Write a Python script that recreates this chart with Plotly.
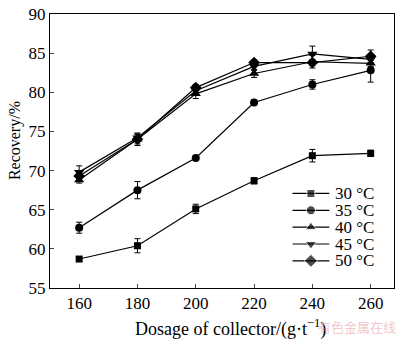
import plotly.graph_objects as go

dosage = [160, 180, 200, 220, 240, 260]
series_names = ["30 °C", "35 °C", "40 °C", "45 °C", "50 °C"]
r30 = [58.7, 60.4, 65.1, 68.7, 71.9, 72.2]
r35 = [62.7, 67.5, 71.6, 78.7, 81.0, 82.8]
r40 = [68.8, 74.0, 79.8, 82.4, 83.9, 83.7]
r45 = [69.8, 74.2, 80.2, 83.3, 84.9, 84.2]
r50 = [69.3, 74.0, 80.6, 83.8, 83.8, 84.6]
e30 = [0.2, 0.9, 0.6, 0.4, 0.8, 0.4]
e35 = [0.7, 1.1, 0.2, 0.3, 0.6, 1.5]
e40 = [0.4, 0.8, 0.6, 0.5, 0.8, 0.4]
e45 = [0.8, 0.5, 0.5, 0.5, 1.0, 0.4]
e50 = [0.5, 0.6, 0.4, 0.3, 0.4, 0.8]
symbols = ["square", "circle", "triangle-up", "triangle-down", "diamond"]
sizes = [7, 8, 9, 9, 9]

FONT = "Liberation Serif, Times New Roman, serif"

# legend layout (fractions of the plot area)
LEG_X0, LEG_X1, LEG_TX = 0.705, 0.812, 0.822
LEG_Y0, LEG_DY = 0.345, 0.0615

fig = go.Figure()
for i, (name, ys, es, sym, sz) in enumerate(zip(series_names, [r30, r35, r40, r45, r50],
                                 [e30, e35, e40, e45, e50], symbols, sizes)):
    fig.add_trace(go.Scatter(
        x=dosage, y=ys, name=name, mode="lines+markers",
        line=dict(color="black", width=1.2),
        marker=dict(symbol=sym, size=sz, color="black"),
        error_y=dict(type="data", array=es, visible=True, color="black",
                     thickness=1, width=3),
        showlegend=False,
    ))
    ly = LEG_Y0 - i * LEG_DY
    # legend sample: line + marker on an overlay axis in plot-fraction units
    fig.add_trace(go.Scatter(
        x=[LEG_X0, (LEG_X0 + LEG_X1) / 2, LEG_X1], y=[ly, ly, ly],
        mode="lines+markers", xaxis="x2", yaxis="y2",
        line=dict(color="black", width=1.2),
        marker=dict(symbol=sym, size=[0, sz + 1, 0], color="black"),
        showlegend=False, hoverinfo="skip",
    ))
    fig.add_annotation(text=name, xref="x2", yref="y2", x=LEG_TX, y=ly,
                       xanchor="left", yanchor="middle", showarrow=False,
                       font=dict(family=FONT, size=17, color="black"))

fig.update_layout(
    width=400, height=339,
    margin=dict(l=50, r=5, t=7, b=51),
    paper_bgcolor="white", plot_bgcolor="white",
    font=dict(family=FONT, size=16, color="black"),
    showlegend=False,
    xaxis=dict(range=[150, 268], tickvals=dosage, ticks="inside", ticklen=4,
               showline=True, linecolor="black", linewidth=1, mirror=True,
               showgrid=False, zeroline=False,
               tickfont=dict(family=FONT, size=17),
               ticklabeloverflow="allow"),
    yaxis=dict(range=[55, 90], dtick=5, ticks="inside", ticklen=4,
               showline=True, linecolor="black", linewidth=1, mirror=True,
               showgrid=False, zeroline=False,
               tickfont=dict(family=FONT, size=17),
               ticklabeloverflow="allow"),
    xaxis2=dict(range=[0, 1], overlaying="x", visible=False, fixedrange=True),
    yaxis2=dict(range=[0, 1], overlaying="y", visible=False, fixedrange=True),
)
# axis titles
fig.add_annotation(text="Dosage of collector/(g·t<sup>−1</sup>)",
                   xref="paper", yref="paper", x=0.525, y=-0.145,
                   xanchor="center", yanchor="middle", showarrow=False,
                   font=dict(family=FONT, size=18, color="black"))
fig.add_annotation(text="Recovery/%", textangle=-90,
                   xref="paper", yref="paper", x=-0.101, y=0.537,
                   xanchor="center", yanchor="middle", showarrow=False,
                   font=dict(family=FONT, size=16, color="black"))
fig.add_annotation(text="有色金属在线", xref="paper", yref="paper",
                   x=1.012, y=-0.142, xanchor="right", yanchor="middle",
                   showarrow=False,
                   font=dict(family="Noto Sans CJK SC", size=13,
                             color="rgba(230,150,160,0.55)"))
fig.write_html("out.html")
